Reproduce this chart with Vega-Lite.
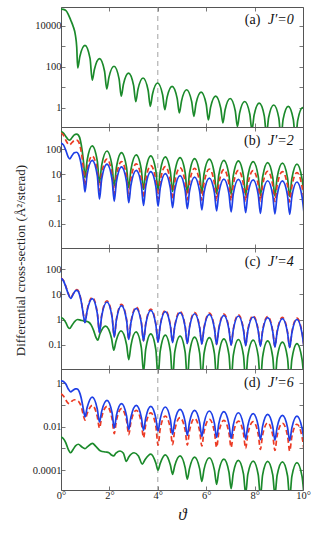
{
"$schema": "https://vega.github.io/schema/vega-lite/v6.json",
"padding": {"left": 13, "top": 6, "right": 0, "bottom": 0},
"spacing": 0,
"bounds": "flush",
"config": {
 "view": {"stroke": "#555", "strokeWidth": 1},
 "axis": {"domain": false, "grid": false, "tickSize": -4, "tickColor": "#555", "tickWidth": 0.8, "labelFont": "Liberation Serif, serif", "labelFontSize": 10.5, "labelColor": "#222", "labelPadding": 4, "titleFont": "Liberation Serif, serif", "titleFontWeight": "normal", "titleColor": "#222", "labelOverlap": false, "labelFlush": false},
 "text": {"font": "Liberation Serif, serif"}
},
"datasets": {
"a_g": [{"x":0,"y":65000},{"x":0.1,"y":63000},{"x":0.2,"y":55000},{"x":0.3,"y":36000},{"x":0.4,"y":19000},{"x":0.5,"y":9500},{"x":0.6,"y":3200},{"x":0.65,"y":900},{"x":0.69,"y":87},
{"x":0.78,"y":318},{"x":0.99,"y":1100},{"x":1.2,"y":253},{"x":1.29,"y":22},
{"x":1.38,"y":73},{"x":1.59,"y":245},{"x":1.8,"y":60},{"x":1.89,"y":8.2},
{"x":1.98,"y":30},{"x":2.19,"y":105},{"x":2.4,"y":25.6},{"x":2.49,"y":3.6},
{"x":2.58,"y":13.9},{"x":2.79,"y":49},{"x":3.0,"y":12.2},{"x":3.09,"y":1.95},
{"x":3.18,"y":7.8},{"x":3.39,"y":28},{"x":3.6,"y":7.1},{"x":3.69,"y":1.17},
{"x":3.78,"y":4.5},{"x":3.99,"y":16},{"x":4.2,"y":4.2},{"x":4.29,"y":0.8},
{"x":4.38,"y":3.1},{"x":4.59,"y":11},{"x":4.8,"y":2.85},{"x":4.89,"y":0.55},
{"x":4.98,"y":2.1},{"x":5.19,"y":7.5},{"x":5.4,"y":1.96},{"x":5.49,"y":0.38},
{"x":5.58,"y":1.6},{"x":5.79,"y":5.8},{"x":6.0,"y":1.47},{"x":6.09,"y":0.25},
{"x":6.18,"y":1.03},{"x":6.39,"y":3.7},{"x":6.6,"y":0.96},{"x":6.69,"y":0.18},
{"x":6.78,"y":0.77},{"x":6.99,"y":2.8},{"x":7.2,"y":0.71},{"x":7.29,"y":0.12},
{"x":7.38,"y":0.54},{"x":7.59,"y":2.0},{"x":7.8,"y":0.5},{"x":7.89,"y":0.08},
{"x":7.98,"y":0.43},{"x":8.19,"y":1.65},{"x":8.4,"y":0.4},{"x":8.49,"y":0.05},
{"x":8.58,"y":0.33},{"x":8.79,"y":1.35},{"x":9.0,"y":0.32},{"x":9.09,"y":0.035},
{"x":9.18,"y":0.275},{"x":9.39,"y":1.15},{"x":9.6,"y":0.265},{"x":9.69,"y":0.025},
{"x":9.78,"y":0.235},{"x":9.99,"y":1.0},{"x":10.0,"y":1.0}],
"b_g": [{"x":0,"y":520},{"x":0.1,"y":450},{"x":0.2,"y":330},{"x":0.3,"y":245},{"x":0.36,"y":235},{"x":0.45,"y":290},{"x":0.55,"y":380},{"x":0.64,"y":410},{"x":0.72,"y":370},{"x":0.8,"y":230},{"x":0.88,"y":80},{"x":0.94,"y":25},{"x":0.99,"y":7},
{"x":1.08,"y":35.6},{"x":1.29,"y":136},{"x":1.5,"y":33},{"x":1.59,"y":4.5},
{"x":1.68,"y":22.4},{"x":1.9,"y":85},{"x":2.11,"y":21.2},{"x":2.2,"y":3.3},
{"x":2.29,"y":18.6},{"x":2.5,"y":73},{"x":2.71,"y":18.1},{"x":2.8,"y":2.8},
{"x":2.89,"y":15.2},{"x":3.11,"y":59},{"x":3.32,"y":14.8},{"x":3.41,"y":2.4},
{"x":3.5,"y":13.7},{"x":3.71,"y":54},{"x":3.92,"y":13.5},{"x":4.01,"y":2.2},
{"x":4.1,"y":12.5},{"x":4.31,"y":49},{"x":4.52,"y":12.3},{"x":4.61,"y":2.0},
{"x":4.7,"y":11.7},{"x":4.92,"y":46},{"x":5.13,"y":11.5},{"x":5.22,"y":1.8},
{"x":5.31,"y":10.6},{"x":5.52,"y":42},{"x":5.73,"y":10.5},{"x":5.82,"y":1.7},
{"x":5.91,"y":10.1},{"x":6.13,"y":40},{"x":6.34,"y":10.0},{"x":6.43,"y":1.6},
{"x":6.52,"y":9.2},{"x":6.73,"y":36},{"x":6.94,"y":9.1},{"x":7.03,"y":1.5},
{"x":7.12,"y":8.6},{"x":7.33,"y":34},{"x":7.54,"y":8.5},{"x":7.63,"y":1.4},
{"x":7.72,"y":8.1},{"x":7.94,"y":32},{"x":8.15,"y":8.05},{"x":8.24,"y":1.35},
{"x":8.33,"y":7.45},{"x":8.54,"y":29},{"x":8.75,"y":7.4},{"x":8.84,"y":1.3},
{"x":8.93,"y":7.1},{"x":9.15,"y":27.5},{"x":9.36,"y":7.05},{"x":9.45,"y":1.25},
{"x":9.54,"y":6.5},{"x":9.75,"y":25},{"x":9.96,"y":6.45},{"x":10.05,"y":1.2}],
"b_r": [{"x":0,"y":460},{"x":0.1,"y":370},{"x":0.2,"y":230},{"x":0.3,"y":160},{"x":0.36,"y":150},{"x":0.45,"y":185},{"x":0.55,"y":225},{"x":0.64,"y":235},{"x":0.72,"y":205},{"x":0.8,"y":120},{"x":0.88,"y":40},{"x":0.94,"y":12},{"x":0.99,"y":3.3},
{"x":1.08,"y":14.6},{"x":1.29,"y":54},{"x":1.5,"y":13.4},{"x":1.59,"y":2.1},
{"x":1.68,"y":10.5},{"x":1.9,"y":40},{"x":2.11,"y":9.9},{"x":2.2,"y":1.5},
{"x":2.29,"y":8.2},{"x":2.5,"y":32},{"x":2.71,"y":7.9},{"x":2.8,"y":1.2},
{"x":2.89,"y":6.7},{"x":3.11,"y":26},{"x":3.32,"y":6.6},{"x":3.41,"y":1.1},
{"x":3.5,"y":5.7},{"x":3.71,"y":22},{"x":3.92,"y":5.6},{"x":4.01,"y":1.0},
{"x":4.1,"y":5.2},{"x":4.31,"y":20},{"x":4.52,"y":5.15},{"x":4.61,"y":0.95},
{"x":4.7,"y":4.75},{"x":4.92,"y":18},{"x":5.13,"y":4.7},{"x":5.22,"y":0.92},
{"x":5.31,"y":4.5},{"x":5.52,"y":17},{"x":5.73,"y":4.5},{"x":5.82,"y":0.9},
{"x":5.91,"y":4.3},{"x":6.13,"y":16},{"x":6.34,"y":4.25},{"x":6.43,"y":0.87},
{"x":6.52,"y":4.0},{"x":6.73,"y":15},{"x":6.94,"y":4.0},{"x":7.03,"y":0.85},
{"x":7.12,"y":3.75},{"x":7.33,"y":14},{"x":7.54,"y":3.7},{"x":7.63,"y":0.82},
{"x":7.72,"y":3.7},{"x":7.94,"y":13.7},{"x":8.15,"y":3.7},{"x":8.24,"y":0.8},
{"x":8.33,"y":3.5},{"x":8.54,"y":13},{"x":8.75,"y":3.5},{"x":8.84,"y":0.78},
{"x":8.93,"y":3.4},{"x":9.15,"y":12.5},{"x":9.36,"y":3.35},{"x":9.45,"y":0.75},
{"x":9.54,"y":3.15},{"x":9.75,"y":11.5},{"x":9.96,"y":3.1},{"x":10.05,"y":0.7}],
"b_b": [{"x":0,"y":180},{"x":0.1,"y":150},{"x":0.2,"y":90},{"x":0.3,"y":48},{"x":0.36,"y":41},{"x":0.45,"y":55},{"x":0.55,"y":72},{"x":0.64,"y":76},{"x":0.72,"y":64},{"x":0.8,"y":36},{"x":0.88,"y":13},{"x":0.94,"y":5},{"x":0.99,"y":1.9},
{"x":1.08,"y":9.5},{"x":1.29,"y":36},{"x":1.5,"y":8.6},{"x":1.59,"y":0.97},
{"x":1.68,"y":6.2},{"x":1.9,"y":25},{"x":2.11,"y":6.05},{"x":2.2,"y":0.8},
{"x":2.29,"y":4.9},{"x":2.5,"y":19.5},{"x":2.71,"y":4.8},{"x":2.8,"y":0.7},
{"x":2.89,"y":3.6},{"x":3.11,"y":14},{"x":3.32,"y":3.5},{"x":3.41,"y":0.55},
{"x":3.5,"y":3.15},{"x":3.71,"y":12.5},{"x":3.92,"y":3.1},{"x":4.01,"y":0.51},
{"x":4.1,"y":2.7},{"x":4.31,"y":10.5},{"x":4.52,"y":2.65},{"x":4.61,"y":0.44},
{"x":4.7,"y":2.27},{"x":4.92,"y":8.7},{"x":5.13,"y":2.23},{"x":5.22,"y":0.4},
{"x":5.31,"y":2.0},{"x":5.52,"y":7.6},{"x":5.73,"y":1.96},{"x":5.82,"y":0.36},
{"x":5.91,"y":1.81},{"x":6.13,"y":6.9},{"x":6.34,"y":1.78},{"x":6.43,"y":0.33},
{"x":6.52,"y":1.65},{"x":6.73,"y":6.3},{"x":6.94,"y":1.62},{"x":7.03,"y":0.3},
{"x":7.12,"y":1.58},{"x":7.33,"y":6.1},{"x":7.54,"y":1.56},{"x":7.63,"y":0.28},
{"x":7.72,"y":1.5},{"x":7.94,"y":5.8},{"x":8.15,"y":1.48},{"x":8.24,"y":0.26},
{"x":8.33,"y":1.39},{"x":8.54,"y":5.4},{"x":8.75,"y":1.38},{"x":8.84,"y":0.25},
{"x":8.93,"y":1.36},{"x":9.15,"y":5.3},{"x":9.36,"y":1.35},{"x":9.45,"y":0.24},
{"x":9.54,"y":1.24},{"x":9.75,"y":4.8},{"x":9.96,"y":1.22},{"x":10.05,"y":0.22}],
"c_r": [{"x":0,"y":45},{"x":0.1,"y":36},{"x":0.2,"y":21},{"x":0.3,"y":11},{"x":0.4,"y":7.2},{"x":0.5,"y":10.5},{"x":0.6,"y":14.8},{"x":0.66,"y":15.5},{"x":0.75,"y":11.8},{"x":0.83,"y":5.9},{"x":0.9,"y":2.3},{"x":0.95,"y":1.15},{"x":0.99,"y":0.78},
{"x":1.08,"y":2.4},{"x":1.29,"y":7.6},{"x":1.5,"y":1.9},{"x":1.59,"y":0.31},
{"x":1.68,"y":1.46},{"x":1.9,"y":5.6},{"x":2.11,"y":1.35},{"x":2.2,"y":0.21},
{"x":2.29,"y":1.04},{"x":2.5,"y":4.0},{"x":2.71,"y":1.0},{"x":2.8,"y":0.165},
{"x":2.89,"y":0.81},{"x":3.11,"y":3.1},{"x":3.32,"y":0.79},{"x":3.41,"y":0.145},
{"x":3.5,"y":0.67},{"x":3.71,"y":2.6},{"x":3.92,"y":0.66},{"x":4.01,"y":0.13},
{"x":4.1,"y":0.6},{"x":4.31,"y":2.3},{"x":4.52,"y":0.59},{"x":4.61,"y":0.125},
{"x":4.7,"y":0.56},{"x":4.92,"y":2.1},{"x":5.13,"y":0.55},{"x":5.22,"y":0.115},
{"x":5.31,"y":0.51},{"x":5.52,"y":1.9},{"x":5.73,"y":0.5},{"x":5.82,"y":0.11},
{"x":5.91,"y":0.475},{"x":6.13,"y":1.8},{"x":6.34,"y":0.475},{"x":6.43,"y":0.105},
{"x":6.52,"y":0.44},{"x":6.73,"y":1.65},{"x":6.94,"y":0.43},{"x":7.03,"y":0.1},
{"x":7.12,"y":0.415},{"x":7.33,"y":1.55},{"x":7.54,"y":0.41},{"x":7.63,"y":0.095},
{"x":7.72,"y":0.385},{"x":7.94,"y":1.41},{"x":8.15,"y":0.38},{"x":8.24,"y":0.09},
{"x":8.33,"y":0.36},{"x":8.54,"y":1.32},{"x":8.75,"y":0.355},{"x":8.84,"y":0.085},
{"x":8.93,"y":0.335},{"x":9.15,"y":1.21},{"x":9.36,"y":0.325},{"x":9.45,"y":0.08},
{"x":9.54,"y":0.31},{"x":9.75,"y":1.14},{"x":9.96,"y":0.3},{"x":10.05,"y":0.07}],
"c_b": [{"x":0,"y":44},{"x":0.1,"y":35},{"x":0.2,"y":20},{"x":0.3,"y":10.5},{"x":0.4,"y":7},{"x":0.5,"y":10},{"x":0.6,"y":14},{"x":0.66,"y":14.5},{"x":0.75,"y":11},{"x":0.83,"y":5.5},{"x":0.9,"y":2.2},{"x":0.95,"y":1.1},{"x":0.99,"y":0.75},
{"x":1.08,"y":2.2},{"x":1.29,"y":6.8},{"x":1.5,"y":1.77},{"x":1.59,"y":0.3},
{"x":1.68,"y":1.35},{"x":1.9,"y":5},{"x":2.11,"y":1.25},{"x":2.2,"y":0.2},
{"x":2.29,"y":0.96},{"x":2.5,"y":3.6},{"x":2.71,"y":0.92},{"x":2.8,"y":0.16},
{"x":2.89,"y":0.75},{"x":3.11,"y":2.8},{"x":3.32,"y":0.73},{"x":3.41,"y":0.14},
{"x":3.5,"y":0.62},{"x":3.71,"y":2.3},{"x":3.92,"y":0.61},{"x":4.01,"y":0.125},
{"x":4.1,"y":0.56},{"x":4.31,"y":2.05},{"x":4.52,"y":0.55},{"x":4.61,"y":0.12},
{"x":4.7,"y":0.52},{"x":4.92,"y":1.9},{"x":5.13,"y":0.51},{"x":5.22,"y":0.11},
{"x":5.31,"y":0.47},{"x":5.52,"y":1.7},{"x":5.73,"y":0.46},{"x":5.82,"y":0.105},
{"x":5.91,"y":0.44},{"x":6.13,"y":1.6},{"x":6.34,"y":0.44},{"x":6.43,"y":0.1},
{"x":6.52,"y":0.41},{"x":6.73,"y":1.47},{"x":6.94,"y":0.4},{"x":7.03,"y":0.095},
{"x":7.12,"y":0.385},{"x":7.33,"y":1.38},{"x":7.54,"y":0.38},{"x":7.63,"y":0.09},
{"x":7.72,"y":0.355},{"x":7.94,"y":1.26},{"x":8.15,"y":0.35},{"x":8.24,"y":0.085},
{"x":8.33,"y":0.335},{"x":8.54,"y":1.18},{"x":8.75,"y":0.33},{"x":8.84,"y":0.08},
{"x":8.93,"y":0.31},{"x":9.15,"y":1.08},{"x":9.36,"y":0.3},{"x":9.45,"y":0.075},
{"x":9.54,"y":0.29},{"x":9.75,"y":1.02},{"x":9.96,"y":0.28},{"x":10.05,"y":0.065}],
"c_g": [{"x":0,"y":1.2},{"x":0.1,"y":1.05},{"x":0.2,"y":0.75},{"x":0.3,"y":0.48},{"x":0.36,"y":0.44},{"x":0.45,"y":0.58},{"x":0.55,"y":0.8},{"x":0.68,"y":1.0},{"x":0.8,"y":0.95},{"x":0.95,"y":0.87},{"x":1.05,"y":0.85},{"x":1.15,"y":0.78},{"x":1.25,"y":0.6},{"x":1.35,"y":0.36},{"x":1.45,"y":0.19},{"x":1.52,"y":0.15},
{"x":1.61,"y":0.27},{"x":1.84,"y":0.55},{"x":2.09,"y":0.176},{"x":2.18,"y":0.06},
{"x":2.27,"y":0.134},{"x":2.48,"y":0.35},{"x":2.71,"y":0.099},{"x":2.8,"y":0.025},
{"x":2.89,"y":0.092},{"x":3.1,"y":0.32},{"x":3.32,"y":0.075},{"x":3.41,"y":0.008},
{"x":3.5,"y":0.065},{"x":3.71,"y":0.27},{"x":3.92,"y":0.062},{"x":4.01,"y":0.005},
{"x":4.1,"y":0.055},{"x":4.31,"y":0.24},{"x":4.52,"y":0.054},{"x":4.61,"y":0.004},
{"x":4.7,"y":0.05},{"x":4.92,"y":0.22},{"x":5.13,"y":0.05},{"x":5.22,"y":0.004},
{"x":5.31,"y":0.046},{"x":5.52,"y":0.2},{"x":5.73,"y":0.046},{"x":5.82,"y":0.004},
{"x":5.91,"y":0.044},{"x":6.13,"y":0.19},{"x":6.34,"y":0.044},{"x":6.43,"y":0.004},
{"x":6.52,"y":0.04},{"x":6.73,"y":0.17},{"x":6.94,"y":0.04},{"x":7.03,"y":0.0035},
{"x":7.12,"y":0.037},{"x":7.33,"y":0.16},{"x":7.54,"y":0.037},{"x":7.63,"y":0.0035},
{"x":7.72,"y":0.035},{"x":7.94,"y":0.15},{"x":8.15,"y":0.035},{"x":8.24,"y":0.003},
{"x":8.33,"y":0.032},{"x":8.54,"y":0.14},{"x":8.75,"y":0.032},{"x":8.84,"y":0.003},
{"x":8.93,"y":0.029},{"x":9.15,"y":0.125},{"x":9.36,"y":0.029},{"x":9.45,"y":0.003},
{"x":9.54,"y":0.026},{"x":9.75,"y":0.11},{"x":9.96,"y":0.026},{"x":10.05,"y":0.003}],
"d_b": [{"x":0,"y":1.3},{"x":0.1,"y":1.2},{"x":0.2,"y":0.92},{"x":0.3,"y":0.55},{"x":0.4,"y":0.4},{"x":0.5,"y":0.48},{"x":0.6,"y":0.55},{"x":0.66,"y":0.55},{"x":0.75,"y":0.42},{"x":0.83,"y":0.22},{"x":0.9,"y":0.09},{"x":0.95,"y":0.045},{"x":0.99,"y":0.028},
{"x":1.08,"y":0.076},{"x":1.29,"y":0.23},{"x":1.5,"y":0.065},{"x":1.59,"y":0.0165},
{"x":1.68,"y":0.051},{"x":1.9,"y":0.165},{"x":2.11,"y":0.044},{"x":2.2,"y":0.0087},
{"x":2.29,"y":0.033},{"x":2.5,"y":0.115},{"x":2.71,"y":0.031},{"x":2.8,"y":0.0073},
{"x":2.89,"y":0.028},{"x":3.11,"y":0.097},{"x":3.32,"y":0.027},{"x":3.41,"y":0.0068},
{"x":3.5,"y":0.025},{"x":3.71,"y":0.087},{"x":3.92,"y":0.024},{"x":4.01,"y":0.0063},
{"x":4.1,"y":0.023},{"x":4.31,"y":0.081},{"x":4.52,"y":0.0215},{"x":4.61,"y":0.0045},
{"x":4.7,"y":0.0177},{"x":4.92,"y":0.063},{"x":5.13,"y":0.0172},{"x":5.22,"y":0.004},
{"x":5.31,"y":0.016},{"x":5.52,"y":0.057},{"x":5.73,"y":0.0155},{"x":5.82,"y":0.0035},
{"x":5.91,"y":0.0145},{"x":6.13,"y":0.053},{"x":6.34,"y":0.0142},{"x":6.43,"y":0.0032},
{"x":6.52,"y":0.0135},{"x":6.73,"y":0.049},{"x":6.94,"y":0.0132},{"x":7.03,"y":0.0029},
{"x":7.12,"y":0.0121},{"x":7.33,"y":0.044},{"x":7.54,"y":0.0119},{"x":7.63,"y":0.0027},
{"x":7.72,"y":0.0111},{"x":7.94,"y":0.04},{"x":8.15,"y":0.0109},{"x":8.24,"y":0.0025},
{"x":8.33,"y":0.0103},{"x":8.54,"y":0.037},{"x":8.75,"y":0.0102},{"x":8.84,"y":0.0024},
{"x":8.93,"y":0.0093},{"x":9.15,"y":0.033},{"x":9.36,"y":0.0092},{"x":9.45,"y":0.0023},
{"x":9.54,"y":0.0088},{"x":9.75,"y":0.031},{"x":9.96,"y":0.0087},{"x":10.05,"y":0.0022}],
"d_r": [{"x":0,"y":0.33},{"x":0.1,"y":0.26},{"x":0.2,"y":0.17},{"x":0.3,"y":0.12},{"x":0.36,"y":0.115},{"x":0.45,"y":0.15},{"x":0.55,"y":0.175},{"x":0.65,"y":0.16},{"x":0.75,"y":0.135},{"x":0.85,"y":0.075},{"x":0.92,"y":0.035},{"x":0.99,"y":0.02},
{"x":1.08,"y":0.04},{"x":1.29,"y":0.097},{"x":1.5,"y":0.029},{"x":1.59,"y":0.0087},
{"x":1.68,"y":0.027},{"x":1.9,"y":0.087},{"x":2.11,"y":0.023},{"x":2.2,"y":0.0048},
{"x":2.29,"y":0.019},{"x":2.5,"y":0.068},{"x":2.71,"y":0.0186},{"x":2.8,"y":0.0043},
{"x":2.89,"y":0.0163},{"x":3.11,"y":0.057},{"x":3.32,"y":0.0151},{"x":3.41,"y":0.0031},
{"x":3.5,"y":0.0121},{"x":3.71,"y":0.043},{"x":3.92,"y":0.0104},{"x":4.01,"y":0.0014},
{"x":4.1,"y":0.0079},{"x":4.31,"y":0.031},{"x":4.52,"y":0.008},{"x":4.61,"y":0.0015},
{"x":4.7,"y":0.007},{"x":4.92,"y":0.026},{"x":5.13,"y":0.0069},{"x":5.22,"y":0.0014},
{"x":5.31,"y":0.0064},{"x":5.52,"y":0.024},{"x":5.73,"y":0.0063},{"x":5.82,"y":0.0013},
{"x":5.91,"y":0.0059},{"x":6.13,"y":0.022},{"x":6.34,"y":0.0057},{"x":6.43,"y":0.0011},
{"x":6.52,"y":0.0052},{"x":6.73,"y":0.0196},{"x":6.94,"y":0.0052},{"x":7.03,"y":0.0011},
{"x":7.12,"y":0.0049},{"x":7.33,"y":0.018},{"x":7.54,"y":0.0048},{"x":7.63,"y":0.001},
{"x":7.72,"y":0.0046},{"x":7.94,"y":0.017},{"x":8.15,"y":0.0045},{"x":8.24,"y":0.0009},
{"x":8.33,"y":0.0041},{"x":8.54,"y":0.015},{"x":8.75,"y":0.004},{"x":8.84,"y":0.0008},
{"x":8.93,"y":0.0038},{"x":9.15,"y":0.0144},{"x":9.36,"y":0.0038},{"x":9.45,"y":0.00076},
{"x":9.54,"y":0.0035},{"x":9.75,"y":0.013},{"x":9.96,"y":0.0034},{"x":10.05,"y":0.00072}],
"d_g": [{"x":0,"y":0.0033},{"x":0.1,"y":0.0028},{"x":0.2,"y":0.0018},{"x":0.3,"y":0.0009},{"x":0.4,"y":0.00063},{"x":0.5,"y":0.0009},{"x":0.6,"y":0.0013},{"x":0.72,"y":0.00155},{"x":0.85,"y":0.0012},{"x":0.99,"y":0.00097},{"x":1.1,"y":0.0012},{"x":1.3,"y":0.0017},{"x":1.45,"y":0.0012},{"x":1.64,"y":0.00076},{"x":1.85,"y":0.00068},{"x":1.98,"y":0.00063},{"x":2.08,"y":0.0005},{"x":2.17,"y":0.00045},{"x":2.27,"y":0.0006},{"x":2.44,"y":0.00076},{"x":2.58,"y":0.0006},{"x":2.7,"y":0.00025},{"x":2.8,"y":0.0004},{"x":3.02,"y":0.00063},{"x":3.2,"y":0.00045},{"x":3.36,"y":0.00019},
{"x":3.47,"y":0.0003},{"x":3.71,"y":0.00054},{"x":3.92,"y":0.00021},{"x":4.01,"y":0.0001},
{"x":4.1,"y":0.000205},{"x":4.31,"y":0.0005},{"x":4.52,"y":0.00017},{"x":4.61,"y":0.000064},
{"x":4.7,"y":0.00016},{"x":4.92,"y":0.00045},{"x":5.13,"y":0.00013},{"x":5.22,"y":0.000038},
{"x":5.31,"y":0.00012},{"x":5.52,"y":0.0004},{"x":5.73,"y":0.000114},{"x":5.82,"y":0.00003},
{"x":5.91,"y":0.000108},{"x":6.13,"y":0.00037},{"x":6.34,"y":0.0001},{"x":6.43,"y":0.000022},
{"x":6.52,"y":0.000089},{"x":6.73,"y":0.00032},{"x":6.94,"y":0.000081},{"x":7.03,"y":0.000014},
{"x":7.12,"y":0.000073},{"x":7.33,"y":0.00028},{"x":7.54,"y":0.000067},{"x":7.63,"y":0.000008},
{"x":7.72,"y":0.000063},{"x":7.94,"y":0.00026},{"x":8.15,"y":0.000061},{"x":8.24,"y":0.000006},
{"x":8.33,"y":0.000059},{"x":8.54,"y":0.00025},{"x":8.75,"y":0.00006},{"x":8.84,"y":0.000007},
{"x":8.93,"y":0.000057},{"x":9.15,"y":0.00024},{"x":9.36,"y":0.000055},{"x":9.45,"y":0.000005},
{"x":9.54,"y":0.000051},{"x":9.75,"y":0.00022},{"x":9.96,"y":0.000051},{"x":10.05,"y":0.000005}]
},
"vconcat": [
{
 "width": 242, "height": 120,
 "layer": [
  {"data": {"values": [{"x": 4}]}, "mark": {"type": "rule", "color": "#8a8a8a", "strokeDash": [5, 4], "strokeWidth": 0.8},
   "encoding": {"x": {"field": "x", "type": "quantitative", "scale": {"domain": [0, 10], "nice": false}, "axis": null}}},
  {"data": {"name": "a_g"}, "mark": {"type": "line", "color": "#1b8a2b", "strokeWidth": 1.7, "interpolate": "monotone", "clip": true},
   "encoding": {
    "x": {"field": "x", "type": "quantitative", "scale": {"domain": [0, 10], "nice": false}, "axis": {"orient": "bottom", "values": [0, 2, 4, 6, 8, 10], "labels": false, "title": null}},
    "y": {"field": "y", "type": "quantitative", "scale": {"type": "log", "domain": [0.114, 81700], "nice": false}, "axis": {"orient": "left", "values": [1, 10, 100, 1000, 10000], "labelExpr": "datum.value == 1 ? '1' : datum.value == 100 ? '100' : datum.value == 10000 ? '10000' : ''", "title": null}}}},
  {"data": {"values": [{"x": 8.24, "y": 12500, "t": "(a)"}]}, "mark": {"type": "text", "align": "right", "baseline": "alphabetic", "fontSize": 14, "font": "Liberation Serif, serif", "color": "#111"},
   "encoding": {
    "x": {"field": "x", "type": "quantitative", "scale": {"domain": [0, 10], "nice": false}, "axis": {"orient": "top", "values": [0, 2, 4, 6, 8, 10], "labels": false, "title": null}},
    "y": {"field": "y", "type": "quantitative", "scale": {"type": "log", "domain": [0.114, 81700], "nice": false}, "axis": {"orient": "right", "values": [1, 10, 100, 1000, 10000], "labels": false, "title": null}},
    "text": {"field": "t"}}},
  {"data": {"values": [{"x": 9.62, "y": 12500, "t": "J′=0"}]}, "mark": {"type": "text", "align": "right", "baseline": "alphabetic", "fontSize": 14, "fontStyle": "italic", "font": "Liberation Serif, serif", "color": "#111"},
   "encoding": {
    "x": {"field": "x", "type": "quantitative", "scale": {"domain": [0, 10], "nice": false}, "axis": null},
    "y": {"field": "y", "type": "quantitative", "scale": {"type": "log", "domain": [0.114, 81700], "nice": false}, "axis": null},
    "text": {"field": "t"}}}
 ],
 "resolve": {"axis": {"x": "independent", "y": "independent"}}
},
{
 "width": 242, "height": 121,
 "layer": [
  {"data": {"values": [{"x": 4}]}, "mark": {"type": "rule", "color": "#8a8a8a", "strokeDash": [5, 4], "strokeWidth": 0.8},
   "encoding": {"x": {"field": "x", "type": "quantitative", "scale": {"domain": [0, 10], "nice": false}, "axis": null}}},
  {"data": {"name": "b_g"}, "mark": {"type": "line", "color": "#1b8a2b", "strokeWidth": 1.7, "interpolate": "monotone", "clip": true},
   "encoding": {
    "x": {"field": "x", "type": "quantitative", "scale": {"domain": [0, 10], "nice": false}, "axis": {"orient": "bottom", "values": [0, 2, 4, 6, 8, 10], "labels": false, "title": null}},
    "y": {"field": "y", "type": "quantitative", "scale": {"type": "log", "domain": [0.0105, 790], "nice": false}, "axis": {"orient": "left", "values": [0.1, 1, 10, 100], "labelExpr": "datum.value == 0.1 ? '0.1' : datum.value == 1 ? '1' : datum.value == 10 ? '10' : '100'", "title": "Differential cross-section (Å²/sterad)", "titleFontSize": 13, "titleX": -41, "titleY": 133, "titleAngle": -90, "titleAlign": "center", "titleBaseline": "middle"}}}},
  {"data": {"name": "b_r"}, "mark": {"type": "line", "color": "#ec3b24", "strokeWidth": 1.7, "strokeDash": [5, 3], "interpolate": "monotone", "clip": true},
   "encoding": {
    "x": {"field": "x", "type": "quantitative", "scale": {"domain": [0, 10], "nice": false}, "axis": null},
    "y": {"field": "y", "type": "quantitative", "scale": {"type": "log", "domain": [0.0105, 790], "nice": false}, "axis": null}}},
  {"data": {"name": "b_b"}, "mark": {"type": "line", "color": "#1e3fe6", "strokeWidth": 1.7, "interpolate": "monotone", "clip": true},
   "encoding": {
    "x": {"field": "x", "type": "quantitative", "scale": {"domain": [0, 10], "nice": false}, "axis": null},
    "y": {"field": "y", "type": "quantitative", "scale": {"type": "log", "domain": [0.0105, 790], "nice": false}, "axis": null}}},
  {"data": {"values": [{"x": 8.24, "y": 148, "t": "(b)"}]}, "mark": {"type": "text", "align": "right", "baseline": "alphabetic", "fontSize": 14, "font": "Liberation Serif, serif", "color": "#111"},
   "encoding": {
    "x": {"field": "x", "type": "quantitative", "scale": {"domain": [0, 10], "nice": false}, "axis": {"orient": "top", "values": [0, 2, 4, 6, 8, 10], "labels": false, "title": null}},
    "y": {"field": "y", "type": "quantitative", "scale": {"type": "log", "domain": [0.0105, 790], "nice": false}, "axis": {"orient": "right", "values": [0.1, 1, 10, 100], "labels": false, "title": null}},
    "text": {"field": "t"}}},
  {"data": {"values": [{"x": 9.62, "y": 148, "t": "J′=2"}]}, "mark": {"type": "text", "align": "right", "baseline": "alphabetic", "fontSize": 14, "fontStyle": "italic", "font": "Liberation Serif, serif", "color": "#111"},
   "encoding": {
    "x": {"field": "x", "type": "quantitative", "scale": {"domain": [0, 10], "nice": false}, "axis": null},
    "y": {"field": "y", "type": "quantitative", "scale": {"type": "log", "domain": [0.0105, 790], "nice": false}, "axis": null},
    "text": {"field": "t"}}}
 ],
 "resolve": {"axis": {"x": "independent", "y": "independent"}}
},
{
 "width": 242, "height": 121,
 "layer": [
  {"data": {"values": [{"x": 4}]}, "mark": {"type": "rule", "color": "#8a8a8a", "strokeDash": [5, 4], "strokeWidth": 0.8},
   "encoding": {"x": {"field": "x", "type": "quantitative", "scale": {"domain": [0, 10], "nice": false}, "axis": null}}},
  {"data": {"name": "c_g"}, "mark": {"type": "line", "color": "#1b8a2b", "strokeWidth": 1.7, "interpolate": "monotone", "clip": true},
   "encoding": {
    "x": {"field": "x", "type": "quantitative", "scale": {"domain": [0, 10], "nice": false}, "axis": {"orient": "bottom", "values": [0, 2, 4, 6, 8, 10], "labels": false, "title": null}},
    "y": {"field": "y", "type": "quantitative", "scale": {"type": "log", "domain": [0.0107, 706], "nice": false}, "axis": {"orient": "left", "values": [0.1, 1, 10, 100], "labelExpr": "datum.value == 0.1 ? '0.1' : datum.value == 1 ? '1' : datum.value == 10 ? '10' : '100'", "title": null}}}},
  {"data": {"name": "c_r"}, "mark": {"type": "line", "color": "#ec3b24", "strokeWidth": 1.7, "strokeDash": [5, 3], "interpolate": "monotone", "clip": true},
   "encoding": {
    "x": {"field": "x", "type": "quantitative", "scale": {"domain": [0, 10], "nice": false}, "axis": null},
    "y": {"field": "y", "type": "quantitative", "scale": {"type": "log", "domain": [0.0107, 706], "nice": false}, "axis": null}}},
  {"data": {"name": "c_b"}, "mark": {"type": "line", "color": "#1e3fe6", "strokeWidth": 1.7, "interpolate": "monotone", "clip": true},
   "encoding": {
    "x": {"field": "x", "type": "quantitative", "scale": {"domain": [0, 10], "nice": false}, "axis": null},
    "y": {"field": "y", "type": "quantitative", "scale": {"type": "log", "domain": [0.0107, 706], "nice": false}, "axis": null}}},
  {"data": {"values": [{"x": 8.24, "y": 135, "t": "(c)"}]}, "mark": {"type": "text", "align": "right", "baseline": "alphabetic", "fontSize": 14, "font": "Liberation Serif, serif", "color": "#111"},
   "encoding": {
    "x": {"field": "x", "type": "quantitative", "scale": {"domain": [0, 10], "nice": false}, "axis": {"orient": "top", "values": [0, 2, 4, 6, 8, 10], "labels": false, "title": null}},
    "y": {"field": "y", "type": "quantitative", "scale": {"type": "log", "domain": [0.0107, 706], "nice": false}, "axis": {"orient": "right", "values": [0.1, 1, 10, 100], "labels": false, "title": null}},
    "text": {"field": "t"}}},
  {"data": {"values": [{"x": 9.62, "y": 135, "t": "J′=4"}]}, "mark": {"type": "text", "align": "right", "baseline": "alphabetic", "fontSize": 14, "fontStyle": "italic", "font": "Liberation Serif, serif", "color": "#111"},
   "encoding": {
    "x": {"field": "x", "type": "quantitative", "scale": {"domain": [0, 10], "nice": false}, "axis": null},
    "y": {"field": "y", "type": "quantitative", "scale": {"type": "log", "domain": [0.0107, 706], "nice": false}, "axis": null},
    "text": {"field": "t"}}}
 ],
 "resolve": {"axis": {"x": "independent", "y": "independent"}}
},
{
 "width": 242, "height": 121,
 "layer": [
  {"data": {"values": [{"x": 4}]}, "mark": {"type": "rule", "color": "#8a8a8a", "strokeDash": [5, 4], "strokeWidth": 0.8},
   "encoding": {"x": {"field": "x", "type": "quantitative", "scale": {"domain": [0, 10], "nice": false}, "axis": null}}},
  {"data": {"name": "d_g"}, "mark": {"type": "line", "color": "#1b8a2b", "strokeWidth": 1.7, "interpolate": "monotone", "clip": true},
   "encoding": {
    "x": {"field": "x", "type": "quantitative", "scale": {"domain": [0, 10], "nice": false}, "axis": {"orient": "bottom", "values": [0, 2, 4, 6, 8, 10], "labelExpr": "datum.value + '°'", "title": "ϑ", "titleFont": "Liberation Serif, serif", "titleFontStyle": "italic", "titleFontSize": 17, "titlePadding": 6}},
    "y": {"field": "y", "type": "quantitative", "scale": {"type": "log", "domain": [0.0000121, 4.56], "nice": false}, "axis": {"orient": "left", "values": [0.0001, 0.001, 0.01, 0.1, 1], "labelExpr": "datum.value == 1 ? '1' : datum.value == 0.01 ? '0.01' : datum.value == 0.0001 ? '0.0001' : ''", "title": null}}}},
  {"data": {"name": "d_r"}, "mark": {"type": "line", "color": "#ec3b24", "strokeWidth": 1.7, "strokeDash": [5, 3], "interpolate": "monotone", "clip": true},
   "encoding": {
    "x": {"field": "x", "type": "quantitative", "scale": {"domain": [0, 10], "nice": false}, "axis": null},
    "y": {"field": "y", "type": "quantitative", "scale": {"type": "log", "domain": [0.0000121, 4.56], "nice": false}, "axis": null}}},
  {"data": {"name": "d_b"}, "mark": {"type": "line", "color": "#1e3fe6", "strokeWidth": 1.7, "interpolate": "monotone", "clip": true},
   "encoding": {
    "x": {"field": "x", "type": "quantitative", "scale": {"domain": [0, 10], "nice": false}, "axis": null},
    "y": {"field": "y", "type": "quantitative", "scale": {"type": "log", "domain": [0.0000121, 4.56], "nice": false}, "axis": null}}},
  {"data": {"values": [{"x": 8.24, "y": 0.68, "t": "(d)"}]}, "mark": {"type": "text", "align": "right", "baseline": "alphabetic", "fontSize": 14, "font": "Liberation Serif, serif", "color": "#111"},
   "encoding": {
    "x": {"field": "x", "type": "quantitative", "scale": {"domain": [0, 10], "nice": false}, "axis": {"orient": "top", "values": [0, 2, 4, 6, 8, 10], "labels": false, "title": null}},
    "y": {"field": "y", "type": "quantitative", "scale": {"type": "log", "domain": [0.0000121, 4.56], "nice": false}, "axis": {"orient": "right", "values": [0.0001, 0.001, 0.01, 0.1, 1], "labels": false, "title": null}},
    "text": {"field": "t"}}},
  {"data": {"values": [{"x": 9.62, "y": 0.68, "t": "J′=6"}]}, "mark": {"type": "text", "align": "right", "baseline": "alphabetic", "fontSize": 14, "fontStyle": "italic", "font": "Liberation Serif, serif", "color": "#111"},
   "encoding": {
    "x": {"field": "x", "type": "quantitative", "scale": {"domain": [0, 10], "nice": false}, "axis": null},
    "y": {"field": "y", "type": "quantitative", "scale": {"type": "log", "domain": [0.0000121, 4.56], "nice": false}, "axis": null},
    "text": {"field": "t"}}}
 ],
 "resolve": {"axis": {"x": "independent", "y": "independent"}}
}
]
}
